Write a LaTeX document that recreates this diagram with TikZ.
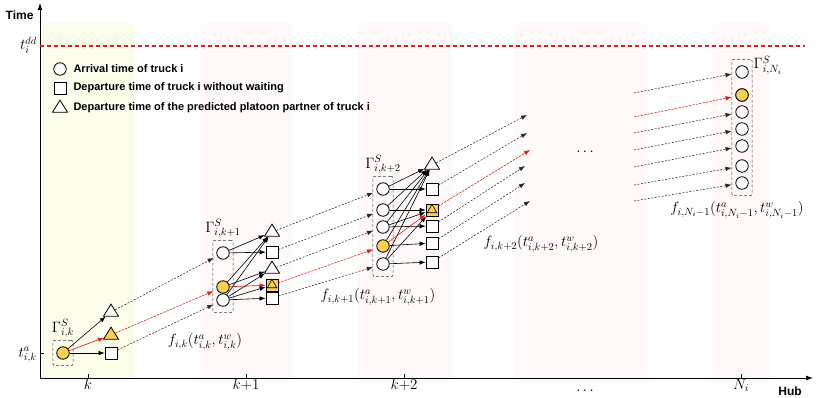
\RequirePackage{fix-cm}
\documentclass[tikz,border=0pt]{standalone}
\usepackage{fontspec}
\setsansfont{Liberation Sans}
\usetikzlibrary{arrows.meta,positioning,shapes.geometric,fit,backgrounds}

\definecolor{gold}{RGB}{248,208,82}
\definecolor{bandyel}{RGB}{251,252,233}
\definecolor{bandpink}{RGB}{255,248,248}
\definecolor{dlred}{RGB}{222,28,28}

\begin{document}
\begin{tikzpicture}[
  x=1pt, y=-1pt,
  font=\fontsize{15}{17}\selectfont,
  arr/.style={circle, draw, line width=0.8pt, fill=white, minimum size=12.5pt, inner sep=0pt},
  dep/.style={rectangle, draw, line width=0.8pt, fill=white, minimum size=12pt, inner sep=0pt},
  mate/.style={isosceles triangle, isosceles triangle stretches, shape border rotate=90,
    draw, line width=0.8pt, fill=white, minimum height=12pt, minimum width=15pt, inner sep=0pt},
  minimate/.style={mate, fill=gold, minimum height=8.5pt, minimum width=9.5pt, line width=0.6pt},
  grp/.style={draw=black!75, densely dashed, line width=0.6pt, rounded corners=2pt,
    inner xsep=3.5pt, inner ysep=6pt},
  glabel/.style={font=\fontsize{15}{17}\selectfont, inner sep=1pt},
  legend/.style={font=\sffamily\bfseries\fontsize{11}{13}\selectfont, anchor=west},
  axlabel/.style={font=\sffamily\bfseries\fontsize{12}{14}\selectfont},
  sarrow/.style={-{Latex[length=6pt,width=4.5pt]}, line width=0.6pt},
  rarrow/.style={sarrow, draw=dlred},
  link/.style={-{Latex[length=6pt,width=4.5pt]}, line width=0.55pt, draw=black!85,
    dash pattern=on 2pt off 1.5pt, shorten >=4pt},
  rlink/.style={link, draw=dlred, fill=dlred}
]
\useasboundingbox (0,0) rectangle (818,398);

% hub bands
\begin{scope}[on background layer]
  \clip (0,0) rectangle (818,378);
  \fill[bandyel, rounded corners=6pt] (42,23) rectangle (134,390);
  \foreach \xa/\xb in {200/292, 357/452, 515/648, 712/770}
    \fill[bandpink, rounded corners=6pt] (\xa,23) rectangle (\xb,390);
\end{scope}

% axes
\coordinate (O) at (40,378);
\coordinate (ytop) at (40,3);
\coordinate (xend) at (813,378);
\draw[{Latex[length=7pt,width=5pt]}-{Latex[length=7pt,width=5pt]}, line width=0.8pt] (ytop) -- (O) -- (xend);
\node[axlabel, anchor=east] (timelab) at (37,15) {Time};
\node[axlabel] (hublab) at (790,391) {Hub};

\foreach \x/\lab in {88/k, 246/k{+}1, 404/k{+}2, 741/N_i}
  \draw[line width=0.6pt] (\x,378) -- (\x,374) node[below=4pt, glabel] {$\lab$};
\node (hubdots) at (585,391) {$\cdots$};

% deadline
\coordinate (dd) at (40,46);
\coordinate (ddend) at (805,46);
\draw[draw=dlred, line width=1.1pt, dash pattern=on 4pt off 3pt] (dd) -- (ddend);
\node[glabel, anchor=east] (ddlab) at (38,45) {$t_i^{dd}$};
\draw[line width=0.6pt] (40,353) -- (44,353);
\node[glabel, anchor=east] (talab) at (38,355) {$t^a_{i,k}$};

% legend
\node[arr] (lg1) at (60,69) {};
\node[dep] (lg2) at (60,88) {};
\node[mate] (lg3) at (60,108) {};
\node[legend] at (70,69) {Arrival time of truck i};
\node[legend] at (70,88) {Departure time of truck i without waiting};
\node[legend] at (70,108) {Departure time of the predicted platoon partner of truck i};

% hub k
\node[arr, fill=gold] (c11) at (63,353) {};
\node[grp, fit=(c11)] (g1) {};
\node[glabel, above=1pt of g1] {$\Gamma^S_{i,k}$};
\node[mate] (m11) at (111,312) {};
\node[mate, fill=gold] (m12) at (111,335) {};
\node[dep] (d11) at (111,353) {};
\draw[sarrow] (c11) -- (m11);
\draw[rarrow] (c11) -- (m12);
\draw[sarrow] (c11) -- (d11);

% hub k+1
\node[arr] (c21) at (223,253) {};
\node[arr, fill=gold] (c22) at (223,287) {};
\node[arr] (c23) at (223,300) {};
\node[grp, fit=(c21)(c23)] (g2) {};
\node[glabel, above=1pt of g2] {$\Gamma^S_{i,k+1}$};
\node[mate] (m21) at (272,232) {};
\node[dep] (d21) at (272,252) {};
\node[mate] (m22) at (272,269) {};
\node[dep, fill=gold] (b2) at (272,285) {};
\node[minimate] at (b2) {};
\node[dep] (d22) at (272,298) {};
\draw[sarrow] (c21) -- (m21);
\draw[sarrow] (c21) -- (d21);
\draw[sarrow] (c22) -- (m21);
\draw[sarrow] (c22) -- (m22);
\draw[rarrow] (c22) -- (b2);
\foreach \t in {m21, m22, b2, d22}
  \draw[sarrow] (c23) -- (\t);

% hub k+2
\node[arr] (c31) at (383,189) {};
\node[arr] (c32) at (383,210) {};
\node[arr] (c33) at (383,227) {};
\node[arr, fill=gold] (c34) at (383,246) {};
\node[arr] (c35) at (383,264) {};
\node[grp, fit=(c31)(c35)] (g3) {};
\node[glabel, above=1pt of g3] {$\Gamma^S_{i,k+2}$};
\node[mate] (m31) at (432,165) {};
\node[dep] (d31) at (432,189) {};
\node[dep, fill=gold] (b3) at (432,210) {};
\node[minimate] at (b3) {};
\node[dep] (d32) at (432,226) {};
\node[dep] (d33) at (432,243) {};
\node[dep] (d34) at (432,262) {};
\foreach \s in {c31, c32, c33, c34, c35}
  \draw[sarrow] (\s) -- (m31);
\draw[sarrow] (c31) -- (d31);
\draw[sarrow] (c32) -- (b3);
\draw[sarrow] (c33) -- (d32);
\draw[sarrow] (c34) -- (d33);
\draw[sarrow] (c35) -- (d34);
\draw[sarrow] (c33) -- (b3);
\draw[sarrow] (c35) -- (b3);
\draw[rarrow] (c34) -- (b3);

% hub N_i
\foreach \n/\y in {1/72, 2/95, 3/112, 4/129, 5/146, 6/166, 7/183}
  \node[arr] (c4\n) at (742,\y) {};
\node[arr, fill=gold] at (c42) {};
\node[grp, fit=(c41)(c47)] (g4) {};
\node[glabel, right=0pt of g4.north east, anchor=north west, yshift=4pt] {$\Gamma^S_{i,N_i}$};
\node (hubgap) at (585,152) {$\cdots$};

% travel between hubs
\draw[link] (m11) -- (c21);
\draw[rlink] (m12) -- (c22);
\draw[link] (d11) -- (c23);

\draw[link] (m21) -- (c31);
\draw[link] (d21) -- (c32);
\draw[link] (m22) -- (c33);
\draw[rlink] (b2) -- (c34);
\draw[link] (d22) -- (c35);

\coordinate (e1) at (527,115);
\coordinate (e2) at (527,133);
\coordinate (e3) at (530,150);
\coordinate (e4) at (525,166);
\coordinate (e5) at (525,183);
\coordinate (e6) at (530,201);
\draw[link, shorten >=0pt] (m31) -- (e1);
\draw[link, shorten >=0pt] (d31) -- (e2);
\draw[rlink, shorten >=0pt] (b3) -- (e3);
\draw[link, shorten >=0pt] (d32) -- (e4);
\draw[link, shorten >=0pt] (d33) -- (e5);
\draw[link, shorten >=0pt] (d34) -- (e6);

\foreach \n/\y in {1/93, 2/117, 3/133, 4/150, 5/167, 6/185, 7/201}
  \coordinate (s\n) at (634,\y);
\draw[link] (s1) -- (c41);
\draw[rlink] (s2) -- (c42);
\foreach \n in {3,...,7}
  \draw[link] (s\n) -- (c4\n);

% travel functions
\node (f1) at (205,342) {$f_{i,k}(t^a_{i,k},t^w_{i,k})$};
\node (f2) at (378,297) {$f_{i,k+1}(t^a_{i,k+1},t^w_{i,k+1})$};
\node (f3) at (541,244) {$f_{i,k+2}(t^a_{i,k+2},t^w_{i,k+2})$};
\node (f4) at (737,210) {$f_{i,N_i-1}(t^a_{i,N_i-1},t^w_{i,N_i-1})$};

\end{tikzpicture}
\end{document}
